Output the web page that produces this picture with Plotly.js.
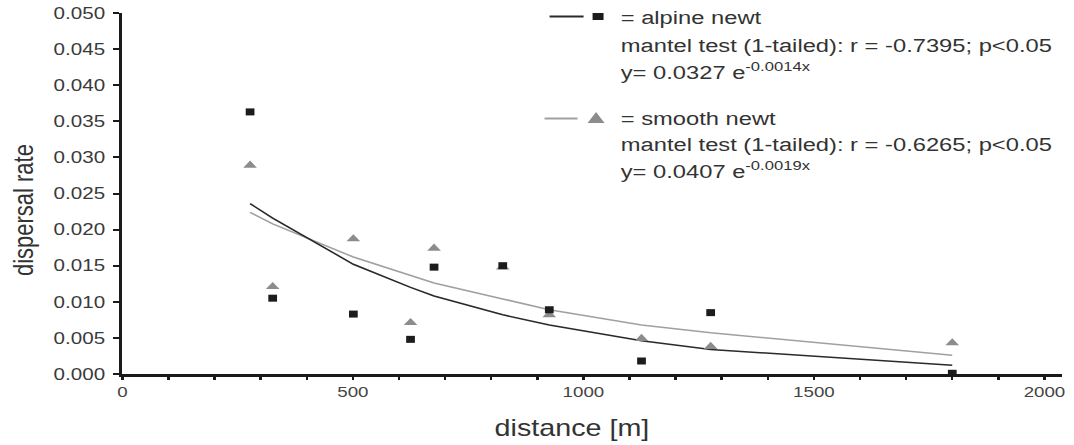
<!DOCTYPE html>
<html>
<head>
<meta charset="utf-8">
<script src="https://cdn.plot.ly/plotly-3.0.1.min.js"></script>
<style>
  html, body { margin: 0; padding: 0; background: #fff; overflow: hidden; }
  #wrap { width: 1074px; height: 445px; overflow: hidden; }
  #plot { transform-origin: 0 0; }
</style>
</head>
<body>
<div id="wrap"><div id="plot"></div></div>
<script>
// ---- data ----
const distance = [277, 326, 501, 625, 676, 825, 926, 1126, 1276, 1800];
const alpineRate = [0.0363, 0.0105, 0.0083, 0.0048, 0.0148, 0.0150, 0.0089, 0.0018, 0.0085, 0.0001];
const smoothRate = [0.0289, 0.0121, 0.0187, 0.0071, 0.0174, 0.0148, 0.0082, 0.0049, 0.0038, 0.0043];
// fitted curves as drawn (dark and light line)
const alpineFit = [0.0236, 0.0216, 0.0152, 0.0120, 0.0108, 0.0082, 0.0068, 0.0046, 0.0034, 0.0012];
const smoothFit = [0.0224, 0.0208, 0.0162, 0.0136, 0.0126, 0.0104, 0.0089, 0.0068, 0.0057, 0.0026];
const xTickVals = [0, 500, 1000, 1500, 2000];
const xTickText = ['0', '500', '1000', '1500', '2000'];
const legendAlpine = ['= alpine newt', 'mantel test (1-tailed): r = -0.7395; p<0.05', 'y= 0.0327 e<sup>-0.0014x</sup>'];
const legendSmooth = ['= smooth newt', 'mantel test (1-tailed): r = -0.6265; p<0.05', 'y= 0.0407 e<sup>-0.0019x</sup>'];
const xTitle = 'distance [m]';
const yTitle = 'dispersal rate';

// ---- geometry (the reference is horizontally stretched) ----
const S = 1074 / 860;          // horizontal stretch
const W = 860, H = 445;
const M = { l: 98.3, r: 9.6, t: 13, b: 71 };
const plotW = W - M.l - M.r, plotH = H - M.t - M.b;
const fx = px => (px / S - M.l) / plotW;     // reference pixel -> paper x
const fy = py => (H - M.b - py) / plotH;     // reference pixel -> paper y
document.getElementById('plot').style.transform = 'scaleX(' + S + ')';

const FONT = 'Liberation Sans, Arial, sans-serif';
const TXT = '#333333';

const traces = [
  { x: distance, y: smoothFit, mode: 'lines', line: { color: '#a0a0a0', width: 1.5 }, hoverinfo: 'skip' },
  { x: distance, y: alpineFit, mode: 'lines', line: { color: '#2a2a2a', width: 1.5 }, hoverinfo: 'skip' },
  { x: distance, y: smoothRate, mode: 'markers', cliponaxis: false,
    marker: { symbol: 'triangle-up', size: 9.5, color: '#8c8c8c', line: { width: 0 } } },
  { x: distance, y: alpineRate, mode: 'markers', cliponaxis: false,
    marker: { symbol: 'square', size: 7, color: '#1c1c1c', line: { width: 0 } } }
];

const ann = [];
function addText(text, px, py, size) {
  ann.push({ text: text, xref: 'paper', yref: 'paper', x: fx(px), y: fy(py),
    xanchor: 'left', yanchor: 'middle', showarrow: false,
    font: { family: FONT, size: size, color: TXT } });
}
addText(legendAlpine[0], 618, 17, 19);
addText(legendAlpine[1], 618, 45, 19);
addText(legendAlpine[2], 618, 70.5, 19);
addText(legendSmooth[0], 618, 118, 19);
addText(legendSmooth[1], 618, 145, 19);
addText(legendSmooth[2], 618, 169.5, 19);
ann.push({ text: xTitle, xref: 'paper', yref: 'paper', x: fx(572), y: fy(428),
  xanchor: 'center', yanchor: 'middle', showarrow: false,
  font: { family: FONT, size: 23, color: TXT } });
ann.push({ text: yTitle, xref: 'paper', yref: 'paper', x: fx(23), y: fy(210),
  xanchor: 'center', yanchor: 'middle', showarrow: false, textangle: -90,
  font: { family: FONT, size: 22, color: TXT } });

const shapes = [
  { type: 'line', xref: 'paper', yref: 'paper', x0: fx(550), x1: fx(584), y0: fy(16.5), y1: fy(16.5),
    line: { color: '#2a2a2a', width: 2 } },
  { type: 'rect', xref: 'paper', yref: 'paper', x0: fx(593), x1: fx(604), y0: fy(13), y1: fy(20),
    fillcolor: '#1c1c1c', line: { width: 0 } },
  { type: 'line', xref: 'paper', yref: 'paper', x0: fx(545), x1: fx(578), y0: fy(118.5), y1: fy(118.5),
    line: { color: '#a0a0a0', width: 2 } },
  { type: 'path', xref: 'paper', yref: 'paper',
    path: 'M ' + fx(588) + ' ' + fy(123) + ' L ' + fx(605) + ' ' + fy(123) + ' L ' + fx(596.5) + ' ' + fy(112) + ' Z',
    fillcolor: '#8c8c8c', line: { width: 0 } }
];

const layout = {
  width: W, height: H,
  margin: M,
  paper_bgcolor: '#ffffff', plot_bgcolor: '#ffffff',
  showlegend: false,
  font: { family: FONT, color: TXT },
  xaxis: {
    range: [0, 2037], showgrid: false, zeroline: false,
    showline: true, linecolor: '#1a1a1a', linewidth: 2.5,
    tickmode: 'array', tickvals: xTickVals, ticktext: xTickText,
    ticks: 'outside', ticklen: 3, tickwidth: 2, tickcolor: '#1a1a1a',
    minor: { dtick: 100, tick0: 0, ticks: 'outside', ticklen: 3, tickwidth: 2, tickcolor: '#1a1a1a' },
    tickfont: { family: FONT, size: 15, color: '#444444' }
  },
  yaxis: {
    range: [0, 0.05], showgrid: false, zeroline: false,
    showline: true, linecolor: '#1a1a1a', linewidth: 2.5,
    dtick: 0.005, tick0: 0, tickformat: '.3f',
    ticks: 'outside', ticklen: 5, tickwidth: 2, tickcolor: '#1a1a1a',
    ticklabelstandoff: 3,
    tickfont: { family: FONT, size: 16.5, color: '#3a3a3a' }
  },
  annotations: ann,
  shapes: shapes
};

Plotly.newPlot('plot', traces, layout, { displayModeBar: false, staticPlot: true });
</script>
</body>
</html>
